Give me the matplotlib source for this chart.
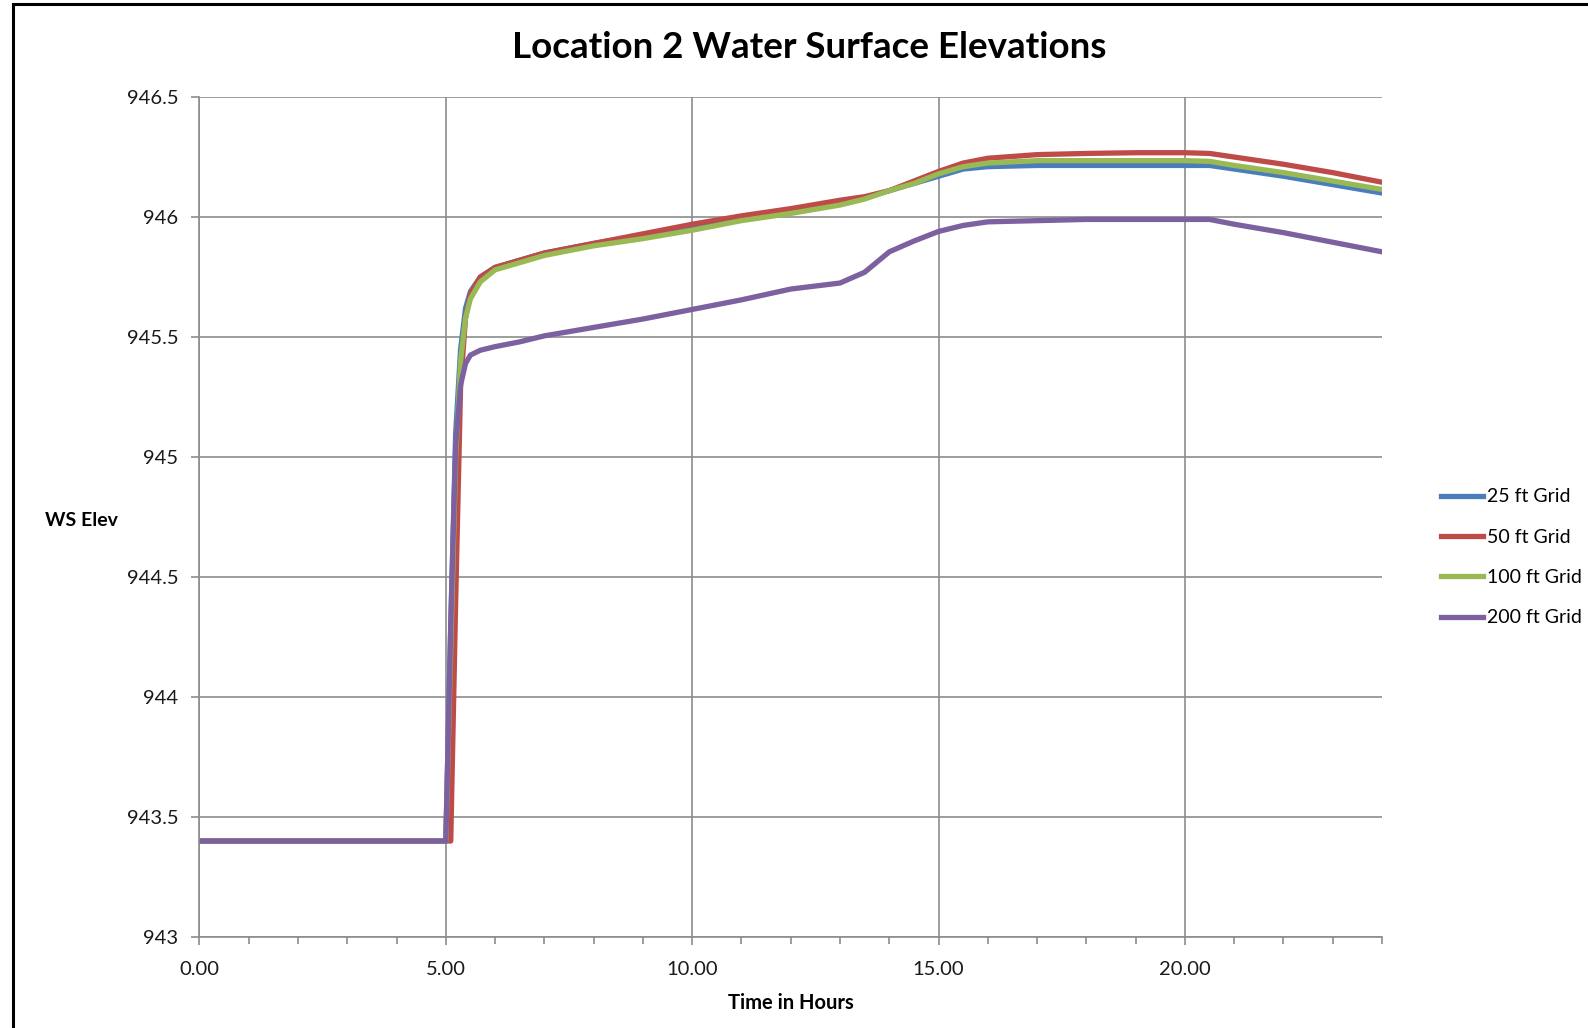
import matplotlib
matplotlib.use("Agg")
import matplotlib.pyplot as plt
from matplotlib.patches import Rectangle
from matplotlib.ticker import MultipleLocator

plt.rcParams['font.family'] = ['Lato', 'DejaVu Sans']

# time (hours) and water surface elevations
t_top = [0.0, 5.0, 5.1, 5.2, 5.3, 5.4, 5.5, 5.7, 6.0, 6.5, 7.0, 8.0, 9.0, 10.0,
         11.0, 12.0, 13.0, 13.5, 14.0, 14.5, 15.0, 15.5, 16.0, 17.0, 18.0,
         19.0, 20.0, 20.5, 21.0, 22.0, 23.0, 24.0]
ws_25 = [943.4, 943.4, 944.3, 945.1, 945.45, 945.62, 945.69, 945.75, 945.79, 945.82,
         945.85, 945.89, 945.925, 945.96, 945.995, 946.025, 946.06, 946.08, 946.11,
         946.14, 946.17, 946.2, 946.21, 946.215, 946.215, 946.215, 946.215, 946.215,
         946.2, 946.17, 946.135, 946.1]
ws_50 = [943.4, 943.4, 943.4, 944.4, 945.3, 945.58, 945.68, 945.75, 945.79, 945.82,
         945.85, 945.89, 945.93, 945.97, 946.005, 946.035, 946.07, 946.085, 946.11,
         946.15, 946.19, 946.225, 946.245, 946.26, 946.265, 946.268, 946.268, 946.265,
         946.25, 946.22, 946.185, 946.145]
ws_100 = [943.4, 943.4, 944.2, 945.0, 945.4, 945.58, 945.66, 945.73, 945.78, 945.81,
          945.84, 945.88, 945.91, 945.945, 945.985, 946.015, 946.05, 946.075, 946.11,
          946.14, 946.18, 946.21, 946.225, 946.235, 946.235, 946.235, 946.235, 946.232,
          946.215, 946.185, 946.15, 946.115]
ws_200 = [943.4, 943.4, 944.3, 945.05, 945.3, 945.39, 945.425, 945.445, 945.46, 945.48,
          945.505, 945.54, 945.575, 945.615, 945.655, 945.7, 945.725, 945.77, 945.855,
          945.9, 945.94, 945.965, 945.98, 945.985, 945.99, 945.99, 945.99, 945.99,
          945.97, 945.935, 945.895, 945.855]

labels = ["25 ft Grid", "50 ft Grid", "100 ft Grid", "200 ft Grid"]
colors = ["#4A7EBB", "#BE4B48", "#98B954", "#7D60A0"]

fig = plt.figure(figsize=(15.88, 10.28), dpi=100)
ax = fig.add_axes([0.1256, 0.0885, 0.7447, 0.8171])

for ys, lab, c in zip([ws_25, ws_50, ws_100, ws_200], labels, colors):
    ax.plot(t_top, ys, color=c, lw=3.8, label=lab, solid_joinstyle="round")

ax.set_xlim(0, 24)
ax.set_ylim(943, 946.5)
ax.xaxis.set_major_locator(MultipleLocator(5))
ax.xaxis.set_minor_locator(MultipleLocator(1))
ax.yaxis.set_major_locator(MultipleLocator(0.5))
ax.xaxis.set_major_formatter(lambda v, p: "%.2f" % v)
ax.yaxis.set_major_formatter(lambda v, p: "%g" % v)
ax.grid(True, color="#8c8c8c", lw=1.2)
ax.set_axisbelow(True)
for s in ["top", "right"]:
    ax.spines[s].set_visible(False)
for s in ["left", "bottom"]:
    ax.spines[s].set_color("#8c8c8c")
    ax.spines[s].set_linewidth(1.2)
ax.tick_params(which="both", direction="out", color="#8c8c8c", width=1.2,
               labelsize=14.5, labelcolor="#1a1a1a")
ax.tick_params(which="major", length=6)
ax.tick_params(axis="x", which="major", pad=11)
ax.tick_params(axis="y", which="major", pad=9)
ax.tick_params(which="minor", length=5)

ax.set_title("Location 2 Water Surface Elevations", fontsize=26.5, fontweight="bold",
             pad=28, x=0.516)
ax.set_xlabel("Time in Hours", fontsize=14.5, fontweight="bold", labelpad=11)
ax.set_ylabel("WS Elev", fontsize=14, fontweight="bold", rotation=0, labelpad=0)
ax.yaxis.set_label_coords(-0.1, 0.486)

ax.legend(loc="center left", bbox_to_anchor=(1.035, 0.452), frameon=False, fontsize=14,
          handlelength=2.15, handletextpad=0.2, labelspacing=1.2)

fig.patches.append(Rectangle((13 / 1588, -0.1), 1.2, 1.1 - 4 / 1028,
                             transform=fig.transFigure, fill=False,
                             edgecolor="black", lw=2.2))

fig.savefig("out.png", dpi=100)
